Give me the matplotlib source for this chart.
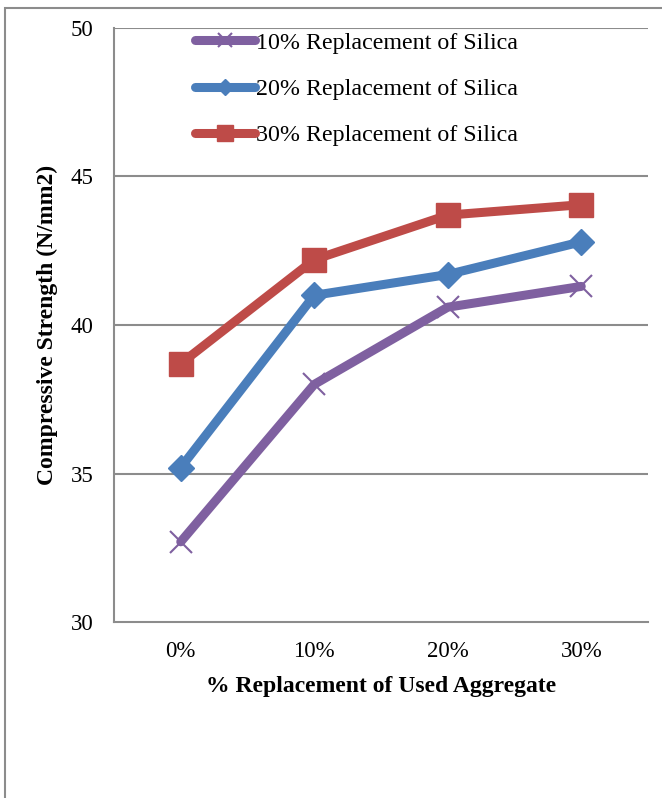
import matplotlib
matplotlib.use("Agg")
import matplotlib.pyplot as plt
from matplotlib.patches import Rectangle

categories = ["0%", "10%", "20%", "30%"]
series_names = ["10% Replacement of Silica", "20% Replacement of Silica", "30% Replacement of Silica"]
silica_10 = [32.7, 38.0, 40.6, 41.3]
silica_20 = [35.2, 41.0, 41.7, 42.8]
silica_30 = [38.7, 42.2, 43.7, 44.05]
y_ticks = [30, 35, 40, 45, 50]

plt.rcParams['font.family'] = ['Liberation Serif', 'DejaVu Serif']

W, H = 662, 798
fig = plt.figure(figsize=(W / 100, H / 100), dpi=100)
ax = fig.add_axes([114 / W, 1 - 622 / H, (648 - 114) / W, (622 - 28) / H])

# outer chart border (extends past right/bottom edge)
fig.patches.append(Rectangle((5 / W, -0.1), 1.2, 1 - 8 / H + 0.1, transform=fig.transFigure,
                             fill=False, edgecolor='#8c8c8c', linewidth=1.5, clip_on=False))

x = list(range(len(categories)))
grid_c = '#8c8c8c'
for t in y_ticks[1:]:
    ax.axhline(t, color=grid_c, linewidth=1.5, zorder=1)

ax.plot(x, silica_10, color='#7f60a0', linewidth=6.5, marker='x', markersize=16,
        markeredgewidth=1.5, markeredgecolor='#7f60a0', label=series_names[0], zorder=3,
        solid_capstyle='round')
ax.plot(x, silica_20, color='#4a7ebb', linewidth=6.5, marker='D', markersize=13,
        markeredgecolor='#4a7ebb', label=series_names[1], zorder=4, solid_capstyle='round')
ax.plot(x, silica_30, color='#be4b48', linewidth=6.5, marker='s', markersize=17,
        markeredgecolor='#be4b48', label=series_names[2], zorder=5, solid_capstyle='round')

ax.set_xlim(-0.5, len(categories) - 0.5)
ax.set_ylim(30, 50)
ax.set_xticks(x)
ax.set_xticklabels(categories)
ax.set_yticks(y_ticks)
ax.tick_params(axis='both', length=0, labelsize=16.5)
ax.tick_params(axis='y', pad=15)
ax.tick_params(axis='x', pad=14)

for s in ['top', 'right']:
    ax.spines[s].set_visible(False)
for s in ['left', 'bottom']:
    ax.spines[s].set_color(grid_c)
    ax.spines[s].set_linewidth(1.5)

ax.set_xlabel("% Replacement of Used Aggregate", fontsize=17, fontweight='bold', labelpad=10)
ax.set_ylabel("Compressive Strength (N/mm2)", fontsize=17, fontweight='bold', labelpad=9)

leg = ax.legend(loc='upper left', bbox_to_anchor=(195 / W, 1 - 32 / H), bbox_transform=fig.transFigure,
                frameon=False, fontsize=17.3, handlelength=2.5, handletextpad=0.05,
                labelspacing=1.02, borderpad=0, borderaxespad=0)
for h in leg.legend_handles:
    h.set_markersize(h.get_markersize() * 0.65)

fig.savefig("out.png", dpi=100, facecolor='white')
